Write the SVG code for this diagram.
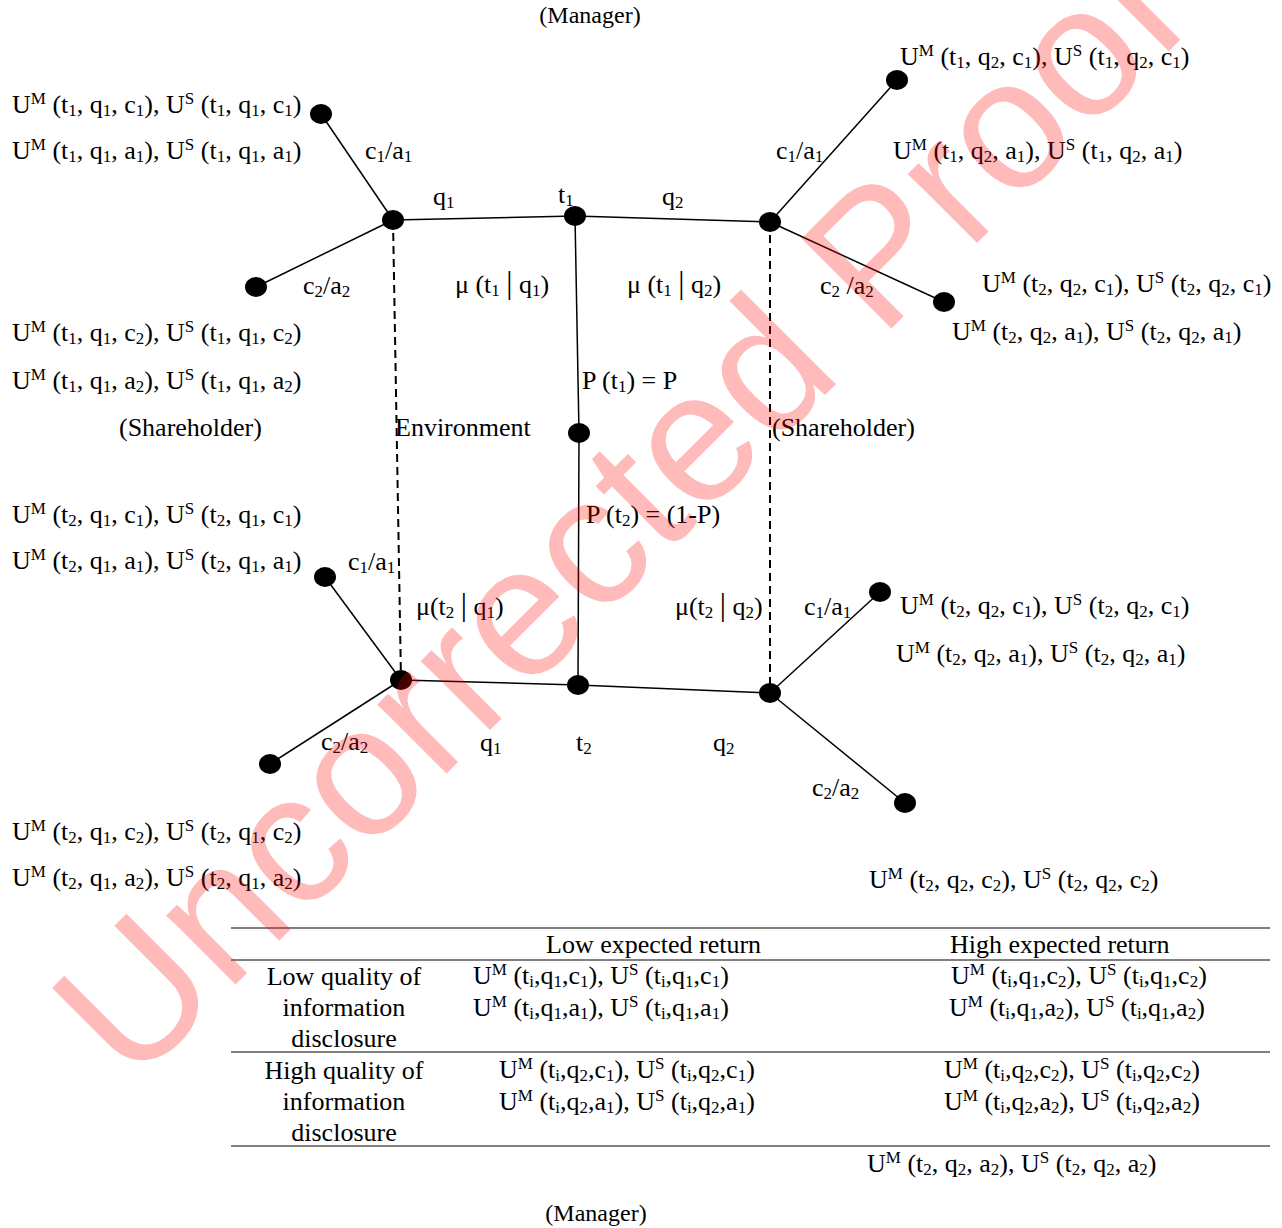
<svg xmlns="http://www.w3.org/2000/svg" width="1282" height="1228" viewBox="0 0 1282 1228">
<style>
.t{font-family:"Liberation Serif","Times New Roman",serif;font-size:26px;fill:#000}
.m{font-size:24px}
.c{text-anchor:middle}
.p{font-size:17px;baseline-shift:9px}
.b{font-size:17px;baseline-shift:-3px}
.bar{font-size:31px}
.ln{stroke:#000;stroke-width:1.5;fill:none}
.dash{stroke:#000;stroke-width:2;stroke-dasharray:8 5;fill:none}
.nd{fill:#000}
.tb{stroke:#808080;stroke-width:2}
.wm{font-family:"Liberation Sans",Arial,sans-serif;font-size:185px;fill:#ff0000;fill-opacity:0.27}
</style>
<rect width="1282" height="1228" fill="#fff"/>
<g id="connectors">
<line class="ln" x1="393" y1="220" x2="575" y2="216"/>
<line class="ln" x1="575" y1="216" x2="770" y2="222"/>
<line class="ln" x1="575" y1="216" x2="579" y2="433"/>
<line class="ln" x1="579" y1="433" x2="578" y2="685"/>
<line class="ln" x1="401" y1="680" x2="578" y2="685"/>
<line class="ln" x1="578" y1="685" x2="770" y2="693"/>
<line class="dash" x1="393" y1="220" x2="401" y2="680"/>
<line class="dash" x1="770" y1="222" x2="770" y2="693"/>
<line class="ln" x1="321" y1="114" x2="393" y2="220"/>
<line class="ln" x1="256" y1="287" x2="393" y2="220"/>
<line class="ln" x1="897" y1="80" x2="770" y2="222"/>
<line class="ln" x1="944" y1="302" x2="770" y2="222"/>
<line class="ln" x1="325" y1="577" x2="401" y2="680"/>
<line class="ln" x1="270" y1="764" x2="401" y2="680"/>
<line class="ln" x1="880" y1="592" x2="770" y2="693"/>
<line class="ln" x1="905" y1="803" x2="770" y2="693"/>
</g>
<g id="n-sh1-left"><ellipse class="nd" cx="393" cy="220" rx="11" ry="10"/></g>
<g id="n-t1"><ellipse class="nd" cx="575" cy="216" rx="11" ry="10"/></g>
<g id="n-sh1-right"><ellipse class="nd" cx="770" cy="222" rx="11" ry="10"/></g>
<g id="n-env"><ellipse class="nd" cx="579" cy="433" rx="11" ry="10"/></g>
<g id="n-sh2-left"><ellipse class="nd" cx="401" cy="680" rx="11" ry="10"/></g>
<g id="n-t2"><ellipse class="nd" cx="578" cy="685" rx="11" ry="10"/></g>
<g id="n-sh2-right"><ellipse class="nd" cx="770" cy="693" rx="11" ry="10"/></g>
<g id="leaf-1"><ellipse class="nd" cx="321" cy="114" rx="11" ry="10"/></g>
<g id="leaf-2"><ellipse class="nd" cx="256" cy="287" rx="11" ry="10"/></g>
<g id="leaf-3"><ellipse class="nd" cx="897" cy="80" rx="11" ry="10"/></g>
<g id="leaf-4"><ellipse class="nd" cx="944" cy="302" rx="11" ry="10"/></g>
<g id="leaf-5"><ellipse class="nd" cx="325" cy="577" rx="11" ry="10"/></g>
<g id="leaf-6"><ellipse class="nd" cx="270" cy="764" rx="11" ry="10"/></g>
<g id="leaf-7"><ellipse class="nd" cx="880" cy="592" rx="11" ry="10"/></g>
<g id="leaf-8"><ellipse class="nd" cx="905" cy="803" rx="11" ry="10"/></g>
<g id="labels" class="t">
<text class="t m c" x="590" y="23">(Manager)</text>
<text class="t" x="12" y="113">U<tspan class="p">M</tspan> (t<tspan class="b">1</tspan>, q<tspan class="b">1</tspan>, c<tspan class="b">1</tspan>), U<tspan class="p">S</tspan> (t<tspan class="b">1</tspan>, q<tspan class="b">1</tspan>, c<tspan class="b">1</tspan>)</text>
<text class="t" x="12" y="159">U<tspan class="p">M</tspan> (t<tspan class="b">1</tspan>, q<tspan class="b">1</tspan>, a<tspan class="b">1</tspan>), U<tspan class="p">S</tspan> (t<tspan class="b">1</tspan>, q<tspan class="b">1</tspan>, a<tspan class="b">1</tspan>)</text>
<text class="t" x="365" y="159">c<tspan class="b">1</tspan>/a<tspan class="b">1</tspan></text>
<text class="t" x="433" y="205">q<tspan class="b">1</tspan></text>
<text class="t" x="558" y="203">t<tspan class="b">1</tspan></text>
<text class="t" x="662" y="205">q<tspan class="b">2</tspan></text>
<text class="t" x="776" y="159">c<tspan class="b">1</tspan>/a<tspan class="b">1</tspan></text>
<text class="t" x="900" y="65">U<tspan class="p">M</tspan> (t<tspan class="b">1</tspan>, q<tspan class="b">2</tspan>, c<tspan class="b">1</tspan>), U<tspan class="p">S</tspan> (t<tspan class="b">1</tspan>, q<tspan class="b">2</tspan>, c<tspan class="b">1</tspan>)</text>
<text class="t" x="893" y="159">U<tspan class="p">M</tspan> (t<tspan class="b">1</tspan>, q<tspan class="b">2</tspan>, a<tspan class="b">1</tspan>), U<tspan class="p">S</tspan> (t<tspan class="b">1</tspan>, q<tspan class="b">2</tspan>, a<tspan class="b">1</tspan>)</text>
<text class="t" x="303" y="294">c<tspan class="b">2</tspan>/a<tspan class="b">2</tspan></text>
<text class="t" x="455" y="293">μ (t<tspan class="b">1</tspan> <tspan class="bar">|</tspan> q<tspan class="b">1</tspan>)</text>
<text class="t" x="627" y="293">μ (t<tspan class="b">1</tspan> <tspan class="bar">|</tspan> q<tspan class="b">2</tspan>)</text>
<text class="t" x="820" y="294">c<tspan class="b">2</tspan> /a<tspan class="b">2</tspan></text>
<text class="t" x="982" y="292">U<tspan class="p">M</tspan> (t<tspan class="b">2</tspan>, q<tspan class="b">2</tspan>, c<tspan class="b">1</tspan>), U<tspan class="p">S</tspan> (t<tspan class="b">2</tspan>, q<tspan class="b">2</tspan>, c<tspan class="b">1</tspan>)</text>
<text class="t" x="952" y="340">U<tspan class="p">M</tspan> (t<tspan class="b">2</tspan>, q<tspan class="b">2</tspan>, a<tspan class="b">1</tspan>), U<tspan class="p">S</tspan> (t<tspan class="b">2</tspan>, q<tspan class="b">2</tspan>, a<tspan class="b">1</tspan>)</text>
<text class="t" x="12" y="341">U<tspan class="p">M</tspan> (t<tspan class="b">1</tspan>, q<tspan class="b">1</tspan>, c<tspan class="b">2</tspan>), U<tspan class="p">S</tspan> (t<tspan class="b">1</tspan>, q<tspan class="b">1</tspan>, c<tspan class="b">2</tspan>)</text>
<text class="t" x="12" y="389">U<tspan class="p">M</tspan> (t<tspan class="b">1</tspan>, q<tspan class="b">1</tspan>, a<tspan class="b">2</tspan>), U<tspan class="p">S</tspan> (t<tspan class="b">1</tspan>, q<tspan class="b">1</tspan>, a<tspan class="b">2</tspan>)</text>
<text class="t" x="582" y="389">P (t<tspan class="b">1</tspan>) = P</text>
<text class="t" x="119" y="436">(Shareholder)</text>
<text class="t" x="395" y="436">Environment</text>
<text class="t" x="772" y="436">(Shareholder)</text>
<text class="t" x="12" y="523">U<tspan class="p">M</tspan> (t<tspan class="b">2</tspan>, q<tspan class="b">1</tspan>, c<tspan class="b">1</tspan>), U<tspan class="p">S</tspan> (t<tspan class="b">2</tspan>, q<tspan class="b">1</tspan>, c<tspan class="b">1</tspan>)</text>
<text class="t" x="586" y="523">P (t<tspan class="b">2</tspan>) = (1-P)</text>
<text class="t" x="12" y="569">U<tspan class="p">M</tspan> (t<tspan class="b">2</tspan>, q<tspan class="b">1</tspan>, a<tspan class="b">1</tspan>), U<tspan class="p">S</tspan> (t<tspan class="b">2</tspan>, q<tspan class="b">1</tspan>, a<tspan class="b">1</tspan>)</text>
<text class="t" x="348" y="570">c<tspan class="b">1</tspan>/a<tspan class="b">1</tspan></text>
<text class="t" x="416" y="615">μ(t<tspan class="b">2</tspan> <tspan class="bar">|</tspan> q<tspan class="b">1</tspan>)</text>
<text class="t" x="675" y="615">μ(t<tspan class="b">2</tspan> <tspan class="bar">|</tspan> q<tspan class="b">2</tspan>)</text>
<text class="t" x="804" y="615">c<tspan class="b">1</tspan>/a<tspan class="b">1</tspan></text>
<text class="t" x="900" y="614">U<tspan class="p">M</tspan> (t<tspan class="b">2</tspan>, q<tspan class="b">2</tspan>, c<tspan class="b">1</tspan>), U<tspan class="p">S</tspan> (t<tspan class="b">2</tspan>, q<tspan class="b">2</tspan>, c<tspan class="b">1</tspan>)</text>
<text class="t" x="896" y="662">U<tspan class="p">M</tspan> (t<tspan class="b">2</tspan>, q<tspan class="b">2</tspan>, a<tspan class="b">1</tspan>), U<tspan class="p">S</tspan> (t<tspan class="b">2</tspan>, q<tspan class="b">2</tspan>, a<tspan class="b">1</tspan>)</text>
<text class="t" x="321" y="750">c<tspan class="b">2</tspan>/a<tspan class="b">2</tspan></text>
<text class="t" x="480" y="751">q<tspan class="b">1</tspan></text>
<text class="t" x="576" y="751">t<tspan class="b">2</tspan></text>
<text class="t" x="713" y="751">q<tspan class="b">2</tspan></text>
<text class="t" x="812" y="796">c<tspan class="b">2</tspan>/a<tspan class="b">2</tspan></text>
<text class="t" x="12" y="840">U<tspan class="p">M</tspan> (t<tspan class="b">2</tspan>, q<tspan class="b">1</tspan>, c<tspan class="b">2</tspan>), U<tspan class="p">S</tspan> (t<tspan class="b">2</tspan>, q<tspan class="b">1</tspan>, c<tspan class="b">2</tspan>)</text>
<text class="t" x="12" y="886">U<tspan class="p">M</tspan> (t<tspan class="b">2</tspan>, q<tspan class="b">1</tspan>, a<tspan class="b">2</tspan>), U<tspan class="p">S</tspan> (t<tspan class="b">2</tspan>, q<tspan class="b">1</tspan>, a<tspan class="b">2</tspan>)</text>
<text class="t" x="869" y="888">U<tspan class="p">M</tspan> (t<tspan class="b">2</tspan>, q<tspan class="b">2</tspan>, c<tspan class="b">2</tspan>), U<tspan class="p">S</tspan> (t<tspan class="b">2</tspan>, q<tspan class="b">2</tspan>, c<tspan class="b">2</tspan>)</text>
<text class="t" x="867" y="1172">U<tspan class="p">M</tspan> (t<tspan class="b">2</tspan>, q<tspan class="b">2</tspan>, a<tspan class="b">2</tspan>), U<tspan class="p">S</tspan> (t<tspan class="b">2</tspan>, q<tspan class="b">2</tspan>, a<tspan class="b">2</tspan>)</text>
<text class="t m c" x="596" y="1221">(Manager)</text>
</g>
<g id="table">
<line class="tb" x1="231" y1="928" x2="1270" y2="928"/>
<line class="tb" x1="231" y1="960" x2="1270" y2="960"/>
<line class="tb" x1="231" y1="1052" x2="1270" y2="1052"/>
<line class="tb" x1="231" y1="1146" x2="1270" y2="1146"/>
<text class="t" x="546" y="953">Low expected return</text>
<text class="t" x="950" y="953">High expected return</text>
<text class="t c" x="344" y="985">Low quality of</text>
<text class="t c" x="344" y="1016">information</text>
<text class="t c" x="344" y="1047">disclosure</text>
<text class="t c" x="344" y="1079">High quality of</text>
<text class="t c" x="344" y="1110">information</text>
<text class="t c" x="344" y="1141">disclosure</text>
<text class="t" x="473" y="984">U<tspan class="p">M</tspan> (t<tspan class="b">i</tspan>,q<tspan class="b">1</tspan>,c<tspan class="b">1</tspan>), U<tspan class="p">S</tspan> (t<tspan class="b">i</tspan>,q<tspan class="b">1</tspan>,c<tspan class="b">1</tspan>)</text>
<text class="t" x="473" y="1016">U<tspan class="p">M</tspan> (t<tspan class="b">i</tspan>,q<tspan class="b">1</tspan>,a<tspan class="b">1</tspan>), U<tspan class="p">S</tspan> (t<tspan class="b">i</tspan>,q<tspan class="b">1</tspan>,a<tspan class="b">1</tspan>)</text>
<text class="t" x="951" y="984">U<tspan class="p">M</tspan> (t<tspan class="b">i</tspan>,q<tspan class="b">1</tspan>,c<tspan class="b">2</tspan>), U<tspan class="p">S</tspan> (t<tspan class="b">i</tspan>,q<tspan class="b">1</tspan>,c<tspan class="b">2</tspan>)</text>
<text class="t" x="949" y="1016">U<tspan class="p">M</tspan> (t<tspan class="b">i</tspan>,q<tspan class="b">1</tspan>,a<tspan class="b">2</tspan>), U<tspan class="p">S</tspan> (t<tspan class="b">i</tspan>,q<tspan class="b">1</tspan>,a<tspan class="b">2</tspan>)</text>
<text class="t" x="499" y="1078">U<tspan class="p">M</tspan> (t<tspan class="b">i</tspan>,q<tspan class="b">2</tspan>,c<tspan class="b">1</tspan>), U<tspan class="p">S</tspan> (t<tspan class="b">i</tspan>,q<tspan class="b">2</tspan>,c<tspan class="b">1</tspan>)</text>
<text class="t" x="499" y="1110">U<tspan class="p">M</tspan> (t<tspan class="b">i</tspan>,q<tspan class="b">2</tspan>,a<tspan class="b">1</tspan>), U<tspan class="p">S</tspan> (t<tspan class="b">i</tspan>,q<tspan class="b">2</tspan>,a<tspan class="b">1</tspan>)</text>
<text class="t" x="944" y="1078">U<tspan class="p">M</tspan> (t<tspan class="b">i</tspan>,q<tspan class="b">2</tspan>,c<tspan class="b">2</tspan>), U<tspan class="p">S</tspan> (t<tspan class="b">i</tspan>,q<tspan class="b">2</tspan>,c<tspan class="b">2</tspan>)</text>
<text class="t" x="944" y="1110">U<tspan class="p">M</tspan> (t<tspan class="b">i</tspan>,q<tspan class="b">2</tspan>,a<tspan class="b">2</tspan>), U<tspan class="p">S</tspan> (t<tspan class="b">i</tspan>,q<tspan class="b">2</tspan>,a<tspan class="b">2</tspan>)</text>
</g>
<g id="watermark">
<text class="wm" x="132" y="1088" transform="rotate(-45 132 1088)">Uncorrected Proof</text>
</g>
</svg>
